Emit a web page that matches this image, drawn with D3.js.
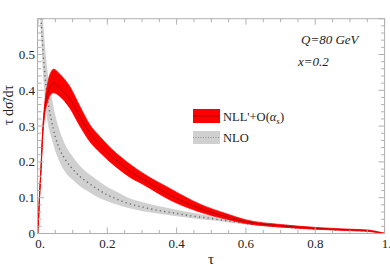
<!DOCTYPE html>
<html><head><meta charset="utf-8">
<script src="https://cdn.jsdelivr.net/npm/d3@7"></script>
<style>body{margin:0;background:#fff}svg{display:block}</style>
</head><body><svg id="c" width="390" height="270"></svg>
<script>
// NLL'+O(alpha_s) band (tau, lower, central, upper)
const nllTau   = [0, 0.004, 0.009, 0.0135, 0.018, 0.028, 0.038, 0.045, 0.063, 0.092, 0.121, 0.15, 0.179, 0.208, 0.237, 0.27, 0.3, 0.38, 0.467, 0.544, 0.6, 0.7, 0.8, 0.9, 0.95, 1.0];
const nllMid   = [0, 0.094, 0.187, 0.28, 0.336, 0.39, 0.415, 0.42, 0.405, 0.375, 0.326, 0.28, 0.247, 0.219, 0.196, 0.17, 0.153, 0.108, 0.07, 0.047, 0.033, 0.022, 0.0145, 0.01, 0.008, 0];
const nllLo    = [0, 0.09, 0.18, 0.27, 0.32, 0.37, 0.39, 0.393, 0.383, 0.35, 0.30, 0.256, 0.226, 0.2, 0.177, 0.154, 0.139, 0.094, 0.06, 0.04, 0.028, 0.018, 0.012, 0.008, 0.006, 0];
const nllHi    = [0, 0.1, 0.195, 0.29, 0.35, 0.42, 0.452, 0.459, 0.445, 0.41, 0.355, 0.303, 0.27, 0.24, 0.215, 0.19, 0.17, 0.126, 0.082, 0.055, 0.038, 0.025, 0.017, 0.012, 0.01, 0];
// NLO band
const nloTau   = [0.006, 0.009, 0.013, 0.018, 0.028, 0.038, 0.05, 0.065, 0.08, 0.1, 0.12, 0.14, 0.17, 0.2, 0.23, 0.26, 0.3, 0.35, 0.4, 0.45, 0.5, 0.55, 0.6, 0.65, 0.7, 0.8, 0.9, 0.95, 1.0];
const nloMid   = [0.7, 0.6, 0.53, 0.466, 0.373, 0.32, 0.27, 0.23, 0.205, 0.18, 0.16, 0.145, 0.125, 0.108, 0.095, 0.084, 0.074, 0.064, 0.056, 0.048, 0.042, 0.035, 0.028, 0.023, 0.019, 0.013, 0.009, 0.007, 0];
const nloLo    = [0.62, 0.55, 0.47, 0.4, 0.31, 0.27, 0.23, 0.195, 0.17, 0.15, 0.133, 0.12, 0.103, 0.09, 0.08, 0.071, 0.063, 0.055, 0.048, 0.042, 0.037, 0.031, 0.025, 0.021, 0.017, 0.012, 0.008, 0.006, 0];
const nloHi    = [0.8, 0.7, 0.62, 0.55, 0.45, 0.39, 0.33, 0.28, 0.245, 0.215, 0.19, 0.172, 0.15, 0.13, 0.115, 0.1, 0.088, 0.076, 0.066, 0.057, 0.049, 0.041, 0.033, 0.027, 0.022, 0.015, 0.011, 0.009, 0];
// tick labels
const xTickVals = [0, 0.2, 0.4, 0.6, 0.8, 1.0];
const xTickLabels = ["0.", "0.2", "0.4", "0.6", "0.8", "1."];
const yTickVals = [0, 0.1, 0.2, 0.3, 0.4, 0.5];
const yTickLabels = ["0", "0.1", "0.2", "0.3", "0.4", "0.5"];
const legendLabels = ["NLL'+O(", "NLO"];

const svg = d3.select("#c");
const L = 38, R = 384.6, T = 18.7, B = 233.5;
const x = d3.scaleLinear().domain([0, 1]).range([L, R]);
const y = d3.scaleLinear().domain([0, 0.6]).range([B, T]);
const font = "'Liberation Serif','Times New Roman',serif";

svg.append("clipPath").attr("id", "clip").append("rect")
  .attr("x", L).attr("y", T).attr("width", R - L).attr("height", B - T);
const g = svg.append("g").attr("clip-path", "url(#clip)");

const nlo = nloTau.map((t, i) => ({t, lo: nloLo[i], mid: nloMid[i], hi: nloHi[i]}));
const nll = nllTau.map((t, i) => ({t, lo: nllLo[i], mid: nllMid[i], hi: nllHi[i]}));
const area = d3.area().x(d => x(d.t)).y0(d => y(d.lo)).y1(d => y(d.hi)).curve(d3.curveMonotoneX);
const line = d3.line().x(d => x(d.t)).y(d => y(d.mid)).curve(d3.curveMonotoneX);

g.append("path").datum(nlo).attr("d", area).attr("fill", "#d0d0d0");
g.append("path").datum(nlo).attr("d", line).attr("fill", "none")
  .attr("stroke", "#686868").attr("stroke-width", 1.4).attr("stroke-dasharray", "1.2,3.2");
g.append("path").datum(nll).attr("d", area).attr("fill", "#ff0000");
g.append("path").datum(nll).attr("d", line).attr("fill", "none")
  .attr("stroke", "#b00000").attr("stroke-width", 1);
g.append("path").datum(nll).attr("d", area).attr("fill", "none").attr("stroke", "#ff0000").attr("stroke-width", 0.8);

// frame
const frameCol = "#b0b0b0";
svg.append("rect").attr("x", L - 0.5).attr("y", T).attr("width", R - L + 0.5).attr("height", B - T)
  .attr("fill", "none").attr("stroke", frameCol).attr("stroke-width", 1);

// ticks (inward)
const tk = svg.append("g").attr("stroke", frameCol).attr("stroke-width", 1);
d3.range(0, 1.0001, 0.05).forEach(v => {
  const major = Math.abs(v / 0.2 - Math.round(v / 0.2)) < 1e-6;
  const len = major ? 6 : 3.5;
  tk.append("line").attr("x1", x(v)).attr("x2", x(v)).attr("y1", B).attr("y2", B - len);
  tk.append("line").attr("x1", x(v)).attr("x2", x(v)).attr("y1", T).attr("y2", T + len);
});
d3.range(0, 0.6001, 0.02).forEach(v => {
  const major = Math.abs(v / 0.1 - Math.round(v / 0.1)) < 1e-6;
  const len = major ? 6 : 3.5;
  tk.append("line").attr("x1", L).attr("x2", L + len).attr("y1", y(v)).attr("y2", y(v));
  tk.append("line").attr("x1", R).attr("x2", R - len).attr("y1", y(v)).attr("y2", y(v));
});

// tick labels
xTickVals.forEach((v, i) => {
  svg.append("text").attr("x", x(v) + (i === 0 ? 2 : i === 5 ? 2 : 0)).attr("y", B + 14)
    .attr("text-anchor", "middle").attr("font-family", font).attr("font-size", 13).attr("fill", "#222")
    .text(xTickLabels[i]);
});
yTickVals.forEach((v, i) => {
  svg.append("text").attr("x", L - 3).attr("y", y(v) + 4.5)
    .attr("text-anchor", "end").attr("font-family", font).attr("font-size", 13).attr("fill", "#222")
    .text(yTickLabels[i]);
});

// axis labels
svg.append("text").attr("x", 211).attr("y", 264).attr("text-anchor", "middle")
  .attr("font-family", font).attr("font-size", 15).attr("fill", "#222").text("τ");
svg.append("text").attr("transform", "translate(13,105) rotate(-90)").attr("text-anchor", "middle")
  .attr("font-family", font).attr("font-size", 14).attr("fill", "#222").text("τ dσ̃/dτ");

// annotations
svg.append("text").attr("x", 301).attr("y", 44).attr("font-family", font).attr("font-style", "italic")
  .attr("font-size", 13).attr("fill", "#222").text("Q=80 GeV");
svg.append("text").attr("x", 298).attr("y", 66).attr("font-family", font).attr("font-style", "italic")
  .attr("font-size", 13).attr("fill", "#222").text("x=0.2");

// legend
const lg = svg.append("g");
lg.append("rect").attr("x", 193).attr("y", 109).attr("width", 27).attr("height", 14).attr("fill", "#ff0000");
lg.append("line").attr("x1", 193).attr("x2", 220).attr("y1", 116).attr("y2", 116).attr("stroke", "#b00000").attr("stroke-width", 1);
lg.append("rect").attr("x", 193).attr("y", 131).attr("width", 27).attr("height", 13).attr("fill", "#d0d0d0");
lg.append("line").attr("x1", 193).attr("x2", 220).attr("y1", 137.5).attr("y2", 137.5).attr("stroke", "#808080")
  .attr("stroke-width", 0.8).attr("stroke-dasharray", "1,1.5");
const t1 = lg.append("text").attr("x", 223).attr("y", 120.5).attr("font-family", font).attr("font-size", 12.5).attr("fill", "#222");
t1.append("tspan").text(legendLabels[0]);
t1.append("tspan").attr("font-style", "italic").text("α");
t1.append("tspan").attr("font-style", "italic").attr("font-size", 9).attr("dy", 3).text("s");
t1.append("tspan").attr("dy", -3).text(")");
lg.append("text").attr("x", 223).attr("y", 142).attr("font-family", font).attr("font-size", 12.5).attr("fill", "#222").text(legendLabels[1]);
</script></body></html>
